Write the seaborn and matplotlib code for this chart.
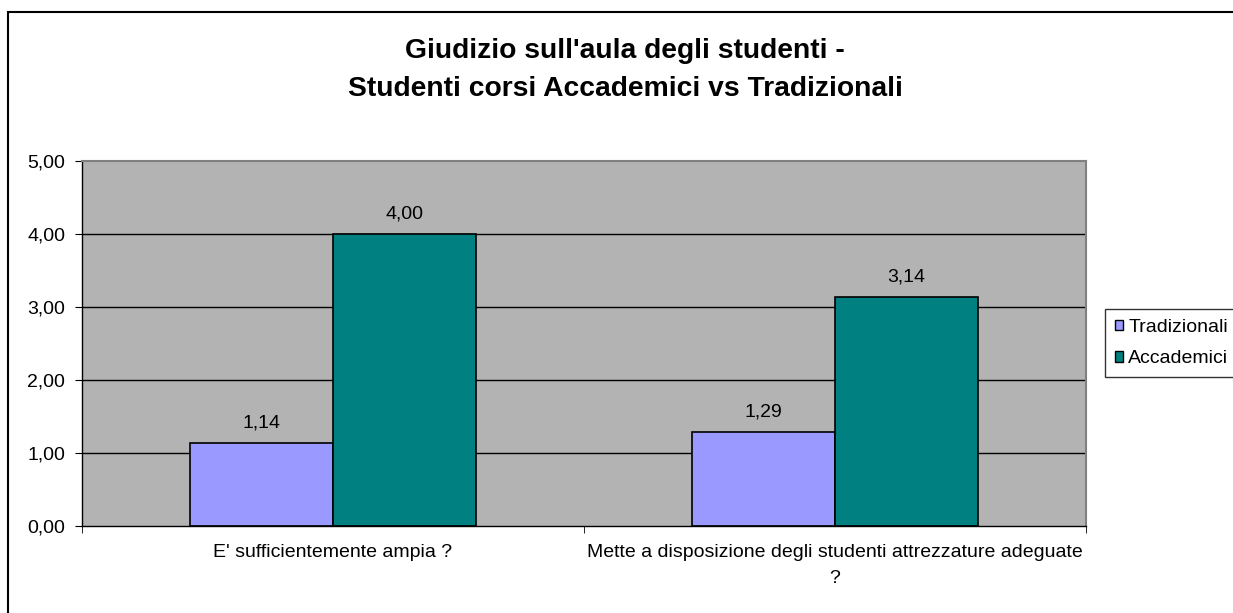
import pandas as pd
import matplotlib.pyplot as plt
import seaborn as sns
from matplotlib.patches import Rectangle

# data
domande = ["E' sufficientemente ampia ?",
           "Mette a disposizione degli studenti attrezzature adeguate\n?"]
tradizionali = [1.14, 1.29]
accademici = [4.00, 3.14]
serie = ["Tradizionali", "Accademici"]
colori = ["#9999FF", "#008080"]
titolo = "Giudizio sull'aula degli studenti -\nStudenti corsi Accademici vs Tradizionali"

df = pd.DataFrame({
    "domanda": domande * 2,
    "valore": tradizionali + accademici,
    "corso": [serie[0]] * 2 + [serie[1]] * 2,
})

sns.set_style("white")
plt.rcParams["font.family"] = ["Liberation Sans", "DejaVu Sans"]
plt.rcParams["text.color"] = "black"
plt.rcParams["xtick.color"] = "black"
plt.rcParams["ytick.color"] = "black"

fig = plt.figure(figsize=(12.33, 6.13), dpi=100)
ax = fig.add_axes([82 / 1233, 87 / 613, 1004 / 1233, 365 / 613])
ax.set_facecolor("#B3B3B3")

sns.barplot(data=df, x="domanda", y="valore", hue="corso", order=domande,
            hue_order=serie, palette=colori, width=0.57, saturation=1,
            edgecolor="black", linewidth=1.2, ax=ax, legend=False)

for cont in ax.containers:
    ax.bar_label(cont, labels=[f"{b.get_height():.2f}".replace(".", ",") for b in cont],
                 padding=8, fontsize=14, color="black")

ax.set_xlim(-0.5, 1.5)
ax.set_ylim(0, 5)
ax.set_yticks([0, 1, 2, 3, 4, 5])
ax.set_yticklabels([f"{v:.2f}".replace(".", ",") for v in range(6)], fontsize=14)
ax.set_xticks([0, 1])
ax.set_xticklabels(domande, fontsize=14, linespacing=1.7)
ax.set_xticks([-0.5, 0.5, 1.5], minor=True)
ax.tick_params(axis="x", which="major", length=0, pad=13)
ax.tick_params(axis="x", which="minor", length=5, direction="out", color="black", bottom=True)
ax.tick_params(axis="y", length=5, direction="out", color="black", left=True, pad=7)
ax.set_xlabel("")
ax.set_ylabel("")

for y in [1, 2, 3, 4]:
    ax.axhline(y, color="black", linewidth=1, zorder=0.5)

for s in ["left", "bottom"]:
    ax.spines[s].set_color("black")
    ax.spines[s].set_linewidth(1)
for s in ["top", "right"]:
    ax.spines[s].set_color("#808080")
    ax.spines[s].set_linewidth(1.5)

fig.text(625 / 1233, 1 - 70 / 613, titolo, ha="center", va="center",
         fontsize=20.3, fontweight="bold", linespacing=1.65)

handles = [Rectangle((0, 0), 1, 1, facecolor=c, edgecolor="black", linewidth=1) for c in colori]
leg = fig.legend(handles, serie, loc="upper left", bbox_to_anchor=(1105 / 1233, 1 - 309 / 613),
                 frameon=True, fancybox=False, fontsize=14, handlelength=0.45, handleheight=0.45,
                 handletextpad=0.25, borderpad=0.5, labelspacing=0.75, borderaxespad=0)
leg.get_frame().set_edgecolor("black")
leg.get_frame().set_linewidth(1)

fig.patches.append(Rectangle((8 / 1233, -0.1), 1.2, 1.1 - 12 / 613, transform=fig.transFigure,
                             fill=False, edgecolor="black", linewidth=1.5))

fig.savefig("out.png", dpi=100)
